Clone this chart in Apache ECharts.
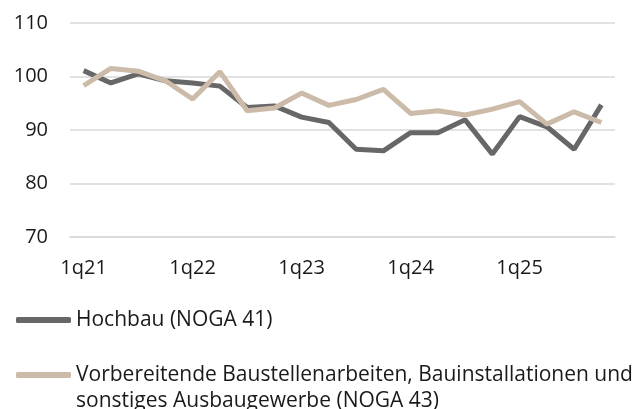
<!DOCTYPE html>
<html>
<head>
<meta charset="utf-8">
<script src="https://cdn.jsdelivr.net/npm/echarts@6/dist/echarts.min.js"></script>
<style>
  html, body { margin: 0; padding: 0; background: #fff; }
  #container { width: 639px; height: 409px; }
</style>
</head>
<body>
<div id="container"></div>
<script>
var dom = document.getElementById('container');
var myChart = echarts.init(dom);

// quarters 1q21 .. 4q25
var years = ['21', '22', '23', '24', '25'];
var quarters = [];
years.forEach(function (y) {
    for (var q = 1; q <= 4; q++) quarters.push(q + 'q' + y);
});

var nameHoch = 'Hochbau (NOGA 41)';
var nameAusbau = 'Vorbereitende Baustellenarbeiten, Bauinstallationen und sonstiges Ausbaugewerbe (NOGA 43)';

var hochbau = [101.1, 98.8, 100.5, 99.2, 98.8, 98.2, 94.2, 94.5, 92.4, 91.4,
    86.4, 86.1, 89.5, 89.5, 91.9, 85.5, 92.5, 90.6, 86.4, 94.7];
var ausbau = [98.3, 101.5, 101.0, 99.2, 95.8, 100.9, 93.6, 94.1, 96.9, 94.6,
    95.7, 97.6, 93.1, 93.6, 92.8, 93.9, 95.3, 91.1, 93.4, 91.4];

var fontFamily = '"Open Sans", sans-serif';
var textColor = '#1a1a1a';
var gridColor = '#d9d9d9';

var legendText = {
    fontFamily: fontFamily,
    fontSize: 21,
    color: textColor,
    lineHeight: 26
};

var option = {
    animation: false,
    grid: {
        left: 70,
        right: 24,
        top: 23,
        bottom: 172
    },
    legend: [{
        data: [nameHoch],
        left: 16,
        top: 307,
        padding: 0,
        icon: 'roundRect',
        itemWidth: 55,
        itemHeight: 6,
        textStyle: legendText
    }, {
        data: [nameAusbau],
        left: 16,
        top: 336,
        padding: 0,
        icon: 'roundRect',
        itemWidth: 55,
        itemHeight: 6,
        // blank first line keeps the icon level with the first text line
        formatter: function (name) {
            return '\n' + name.replace('und ', 'und\n');
        },
        textStyle: legendText
    }],
    xAxis: {
        type: 'category',
        data: quarters,
        boundaryGap: true,
        axisLine: { lineStyle: { color: gridColor, width: 1.5 } },
        axisTick: { interval: 3, length: 6, lineStyle: { color: gridColor, width: 1.5 } },
        axisLabel: {
            interval: 3,
            margin: 21,
            fontFamily: fontFamily,
            fontSize: 20,
            color: textColor
        }
    },
    yAxis: {
        type: 'value',
        min: 70,
        max: 110,
        interval: 10,
        axisLine: { show: false },
        axisTick: { show: false },
        splitLine: { lineStyle: { color: gridColor, width: 1.5 } },
        axisLabel: {
            margin: 22,
            fontFamily: fontFamily,
            fontSize: 20,
            color: textColor
        }
    },
    series: [{
        name: nameHoch,
        type: 'line',
        data: hochbau,
        symbol: 'none',
        lineStyle: { color: '#676767', width: 5 },
        itemStyle: { color: '#676767' }
    }, {
        name: nameAusbau,
        type: 'line',
        data: ausbau,
        symbol: 'none',
        lineStyle: { color: '#cbbba8', width: 5 },
        itemStyle: { color: '#cbbba8' }
    }]
};

myChart.setOption(option);
</script>
</body>
</html>
